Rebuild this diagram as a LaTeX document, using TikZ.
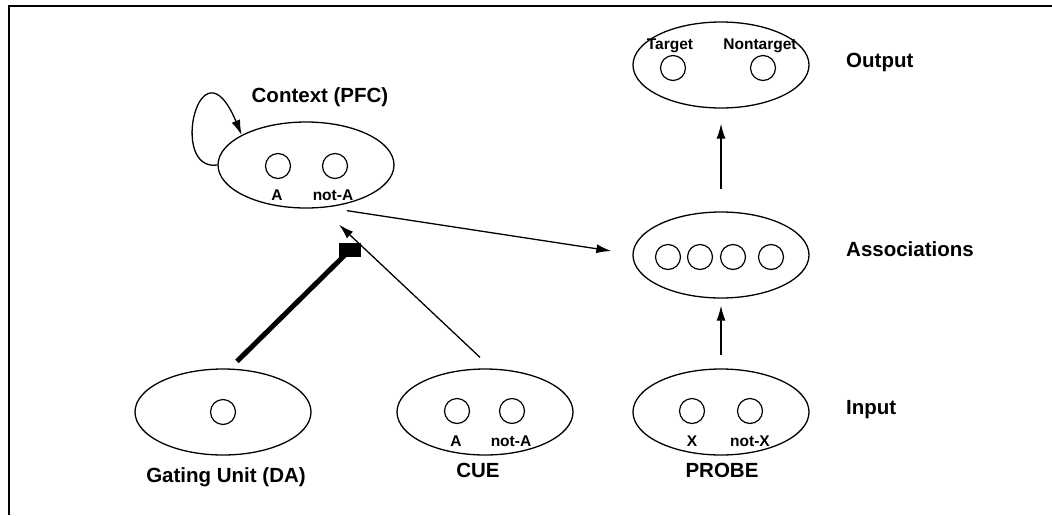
\documentclass[tikz,border=0pt]{standalone}
\usepackage{fontspec}
\setsansfont{Liberation Sans}
\usetikzlibrary{positioning, arrows.meta, shapes.geometric}
\tikzset{
  layer/.style={
    ellipse, draw, line width=1.3pt, inner sep=0pt,
    minimum width=176pt, minimum height=86pt
  },
  unit/.style={
    circle, draw, line width=1.2pt, inner sep=0pt,
    minimum size=25pt
  },
  ulbl/.style={font=\sffamily\bfseries\fontsize{15.5}{17}\selectfont, inner sep=0pt},
  lname/.style={font=\sffamily\bfseries\fontsize{20.5}{24}\selectfont, inner sep=0pt},
  arr/.style={-{Latex[length=15pt, width=9pt]}, line width=1.3pt},
  gatebox/.style={
    rectangle, fill=black, inner sep=0pt,
    minimum width=22pt, minimum height=14pt
  },
}

\begin{document}
\begin{tikzpicture}[x=1pt, y=-1pt]

  \useasboundingbox (0,0) rectangle (1052,515);

  %% ── Frame ─────────────────────────────────────────────────────────────────

  \draw[line width=2.5pt] (9,515) -- (9,6) -- (1052,6);

  %% ── Layers ────────────────────────────────────────────────────────────────

  \node[layer] (ctx)    at (306, 165) {};
  \node[layer] (out)    at (721,  65) {};
  \node[layer] (assoc)  at (721, 255) {};
  \node[layer] (gating) at (223, 412) {};
  \node[layer] (cue)    at (485, 412) {};
  \node[layer] (probe)  at (721, 412) {};

  %% ── Units ─────────────────────────────────────────────────────────────────

  \node[unit] (ctxA)    at (278, 166) {};
  \node[unit] (ctxnA)   at (335, 166) {};
  \node[unit] (outT)    at (673,  68) {};
  \node[unit] (outN)    at (763,  68) {};
  \node[unit] (as1)     at (668, 257) {};
  \node[unit] (as2)     at (700, 257) {};
  \node[unit] (as3)     at (733, 257) {};
  \node[unit] (as4)     at (771, 257) {};
  \node[unit] (gateU)   at (223, 412) {};
  \node[unit] (cueA)    at (457, 411) {};
  \node[unit] (cuenA)   at (512, 411) {};
  \node[unit] (probeX)  at (692, 411) {};
  \node[unit] (probenX) at (750, 411) {};

  % unit labels
  \node[ulbl] (lctxA)    at (277, 195) {A};
  \node[ulbl] (lctxnA)   at (333, 195) {not-A};
  \node[ulbl] (loutT)    at (670,  46) {Target};
  \node[ulbl] (loutN)    at (760,  46) {Nontarget};
  \node[ulbl] (lcueA)    at (456, 441) {A};
  \node[ulbl] (lcuenA)   at (511, 441) {not-A};
  \node[ulbl] (lprobeX)  at (692, 441) {X};
  \node[ulbl] (lprobenX) at (750, 441) {not-X};

  %% ── Layer names ───────────────────────────────────────────────────────────

  \node[lname] (nctx)    at (320,  97) {Context (PFC)};
  \node[lname] (ngating) at (226, 477) {Gating Unit (DA)};
  \node[lname] (ncue)    at (478, 470) {CUE};
  \node[lname] (nprobe)  at (722, 470) {PROBE};
  \node[lname, anchor=west] (nout)   at (846,  62) {Output};
  \node[lname, anchor=west] (nassoc) at (846, 249) {Associations};
  \node[lname, anchor=west] (ninput) at (846, 410) {Input};

  %% ── Connections ───────────────────────────────────────────────────────────

  \draw[arr] (ctx.west) .. controls (168, 172) and (200, 35) .. (ctx.155);

  \draw[arr] ([xshift=41pt, yshift=-2pt]ctx.south)
    -- ([xshift=-21pt, yshift=4pt]assoc.west);

  \draw[arr] ([xshift=-5pt, yshift=11pt]cue.north)
    -- ([xshift=33pt, yshift=-16pt]ctx.south);

  % gating
  \node[gatebox] (gsq) at (350, 250) {};
  \draw[line width=5pt] ([xshift=14pt, yshift=7pt]gating.north) -- (gsq.center);

  \draw[arr, shorten <=13pt, shorten >=7pt]  (probe.north) -- (assoc.south);
  \draw[arr, shorten <=22pt, shorten >=15pt] (assoc.north) -- (out.south);

\end{tikzpicture}
\end{document}
